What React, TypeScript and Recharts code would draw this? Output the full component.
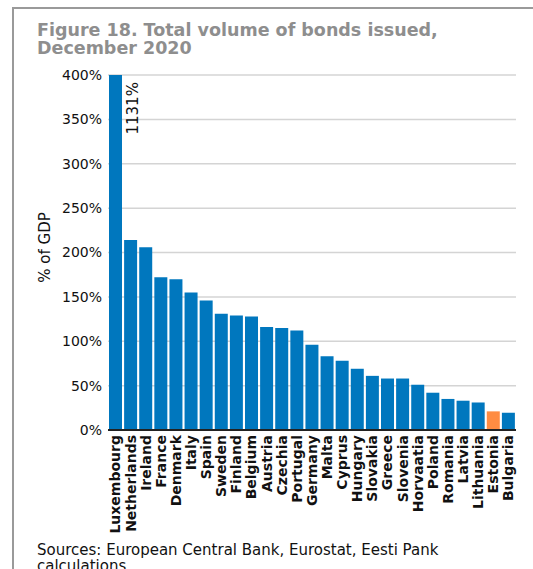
import React from 'react';
import { BarChart, Bar, XAxis, YAxis, CartesianGrid, Cell, ReferenceDot } from 'recharts';

const countries = [
  'Luxembourg', 'Netherlands', 'Ireland', 'France', 'Denmark', 'Italy', 'Spain',
  'Sweden', 'Finland', 'Belgium', 'Austria', 'Czechia', 'Portugal', 'Germany',
  'Malta', 'Cyprus', 'Hungary', 'Slovakia', 'Greece', 'Slovenia', 'Horvaatia',
  'Poland', 'Romania', 'Latvia', 'Lithuania', 'Estonia', 'Bulgaria',
];
const bondsPctGdp = [
  1131, 214, 206, 172, 170, 155, 146, 131, 129, 128, 116, 115, 112, 96,
  83, 78, 69, 61, 58, 58, 51, 42, 35, 33, 31, 21, 19.5,
];
const yTicks = [0, 50, 100, 150, 200, 250, 300, 350, 400];
const highlight = 'Estonia';

const FONT = '"DejaVu Sans", sans-serif';
const BLUE = '#0077BE';
const ORANGE = '#FF8C42';

const data = countries.map((name, i) => ({ name, value: bondsPctGdp[i] }));

const CountryTick = ({ x, y, payload }: any) => (
  <text
    x={x}
    y={y}
    transform={`rotate(-90, ${x}, ${y})`}
    textAnchor="end"
    dy="0.35em"
    fontFamily={FONT}
    fontSize={14}
    fontWeight="bold"
    fill="#111"
  >
    {payload.value}
  </text>
);

// Luxembourg runs off the scale, so its value is written beside the bar
const OverflowLabel = ({ viewBox }: any) => {
  const cx = viewBox.x + (viewBox.width || 0) / 2 + 22;
  const cy = viewBox.y + (viewBox.height || 0) / 2;
  return (
    <text
      x={cx}
      y={cy}
      transform={`rotate(-90, ${cx}, ${cy})`}
      textAnchor="end"
      fontFamily={FONT}
      fontSize={15}
      fill="#111"
    >
      {`${bondsPctGdp[0]}%`}
    </text>
  );
};

const AxisTitle = ({ viewBox }: any) => {
  const x = viewBox.x + 50;
  const y = viewBox.y + viewBox.height / 2 - 5;
  return (
    <text
      x={x}
      y={y}
      transform={`rotate(-90, ${x}, ${y})`}
      textAnchor="middle"
      fontFamily={FONT}
      fontSize={15}
      fill="#111"
    >
      % of GDP
    </text>
  );
};

export default function App() {
  return (
    <div
      style={{
        position: 'absolute',
        left: 0,
        top: 0,
        width: 533,
        height: 569,
        overflow: 'hidden',
        background: '#fff',
        fontFamily: FONT,
      }}
    >
      <div
        style={{
          position: 'absolute',
          left: 12,
          top: 7,
          width: 540,
          height: 580,
          borderTop: '2px solid #9a9a9a',
          borderLeft: '2px solid #9a9a9a',
        }}
      />
      <div
        style={{
          position: 'absolute',
          left: 37,
          top: 22,
          fontSize: 17.5,
          lineHeight: '17.5px',
          fontWeight: 'bold',
          color: '#8e8e8e',
          whiteSpace: 'nowrap',
        }}
      >
        Figure 18. Total volume of bonds issued,
        <br />
        December 2020
      </div>
      <div style={{ position: 'absolute', left: 0, top: 0 }}>
        <BarChart
          width={533}
          height={569}
          data={data}
          margin={{ top: 75, right: 17, left: 0, bottom: 0 }}
        >
          <CartesianGrid vertical={false} stroke="#d4d4d4" strokeWidth={1.5} />
          <XAxis
            dataKey="name"
            interval={0}
            height={139}
            tickLine={false}
            tickSize={0}
            tickMargin={5}
            axisLine={{ stroke: '#222', strokeWidth: 2 }}
            tick={<CountryTick />}
          />
          <YAxis
            width={108}
            domain={[0, 400]}
            ticks={yTicks}
            allowDataOverflow
            tickFormatter={(v: number) => `${v}%`}
            axisLine={false}
            tickLine={false}
            tickSize={0}
            tickMargin={6}
            tick={{ fontSize: 14, fill: '#111', fontFamily: FONT }}
            label={<AxisTitle />}
          />
          <Bar dataKey="value" barSize={13} isAnimationActive={false}>
            {data.map((d) => (
              <Cell key={d.name} fill={d.name === highlight ? ORANGE : BLUE} />
            ))}
          </Bar>
          <ReferenceDot
            x={countries[0]}
            y={392}
            r={0}
            fillOpacity={0}
            strokeOpacity={0}
            label={<OverflowLabel />}
          />
        </BarChart>
      </div>
      <div
        style={{
          position: 'absolute',
          left: 37,
          top: 542,
          fontSize: 15,
          lineHeight: '16px',
          color: '#111',
          whiteSpace: 'nowrap',
        }}
      >
        Sources: European Central Bank, Eurostat, Eesti Pank
        <br />
        calculations
      </div>
    </div>
  );
}
